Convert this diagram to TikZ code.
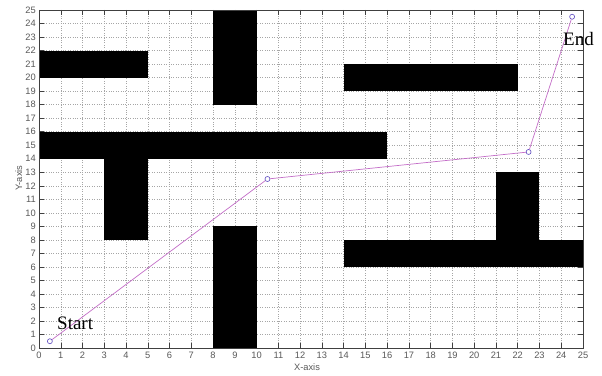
\documentclass[tikz,border=0pt]{standalone}
\usepackage{fontspec}
\setmainfont{Liberation Serif}
\setsansfont{Liberation Sans}
\begin{document}
\begin{tikzpicture}[x=1pt,y=1pt,
  obst/.style={fill=black,draw=none},
  gridl/.style={draw=gray!70,line width=0.5pt,dash pattern=on 0.8pt off 1.6pt},
  axisbox/.style={draw=black!75,line width=0.6pt},
  ticklab/.style={font=\sffamily\fontsize{9.3}{9.3}\selectfont,text=black!65,inner sep=0pt},
  pathl/.style={draw={rgb,255:red,196;green,110;blue,200},line width=0.7pt},
  mk/.style={circle,draw={rgb,255:red,90;green,70;blue,190},line width=0.6pt,minimum size=5pt,inner sep=0pt},
  biglab/.style={font=\fontsize{19}{19}\selectfont,inner sep=0pt}
]
\useasboundingbox[fill=white] (0,0) rectangle (602,375);
\begin{scope}[shift={(39pt,27pt)},x=21.76pt,y=13.52pt]
  % grid
  \foreach \i in {1,...,24} {
    \draw[gridl] (\i,0) -- (\i,25);
    \draw[gridl] (0,\i) -- (25,\i);
  }
  % ticks
  \foreach \i in {0,...,25} {
    \draw[black!75,line width=0.5pt] (\i,0) -- ++(0,5pt);
    \draw[black!75,line width=0.5pt] (\i,25) -- ++(0,-5pt);
    \draw[black!75,line width=0.5pt] (0,\i) -- ++(5pt,0);
    \draw[black!75,line width=0.5pt] (25,\i) -- ++(-5pt,0);
    \node[ticklab,anchor=north] (xl\i) at ([yshift=-4pt]\i,0) {\i};
    \node[ticklab,anchor=east] (yl\i) at ([xshift=-3pt]0,\i) {\i};
  }
  % obstacles
  \fill[obst] (0,20) rectangle (5,22);
  \fill[obst] (8,18) rectangle (10,25);
  \fill[obst] (14,19) rectangle (22,21);
  \fill[obst] (0,14) rectangle (16,16);
  \fill[obst] (3,8) rectangle (5,14);
  \fill[obst] (8,0) rectangle (10,9);
  \fill[obst] (14,6) rectangle (25,8);
  \fill[obst] (21,8) rectangle (23,13);
  % axis box
  \draw[axisbox] (0,0) rectangle (25,25);
  % path
  \node[mk] (p1) at (0.5,0.5) {};
  \node[mk] (p2) at (10.5,12.5) {};
  \node[mk] (p3) at (22.5,14.5) {};
  \node[mk] (p4) at (24.5,24.5) {};
  \draw[pathl] (p1) -- (p2) -- (p3) -- (p4);
\end{scope}
\node[ticklab,anchor=base] (xlab) at (307,5) {X-axis};
\node[ticklab,anchor=base,rotate=90] (ylab) at (22,197) {Y-axis};
\node[biglab,anchor=base west] (start) at (57,46) {Start};
\node[biglab,anchor=base west] (end) at (563,329) {End};
\end{tikzpicture}
\end{document}
